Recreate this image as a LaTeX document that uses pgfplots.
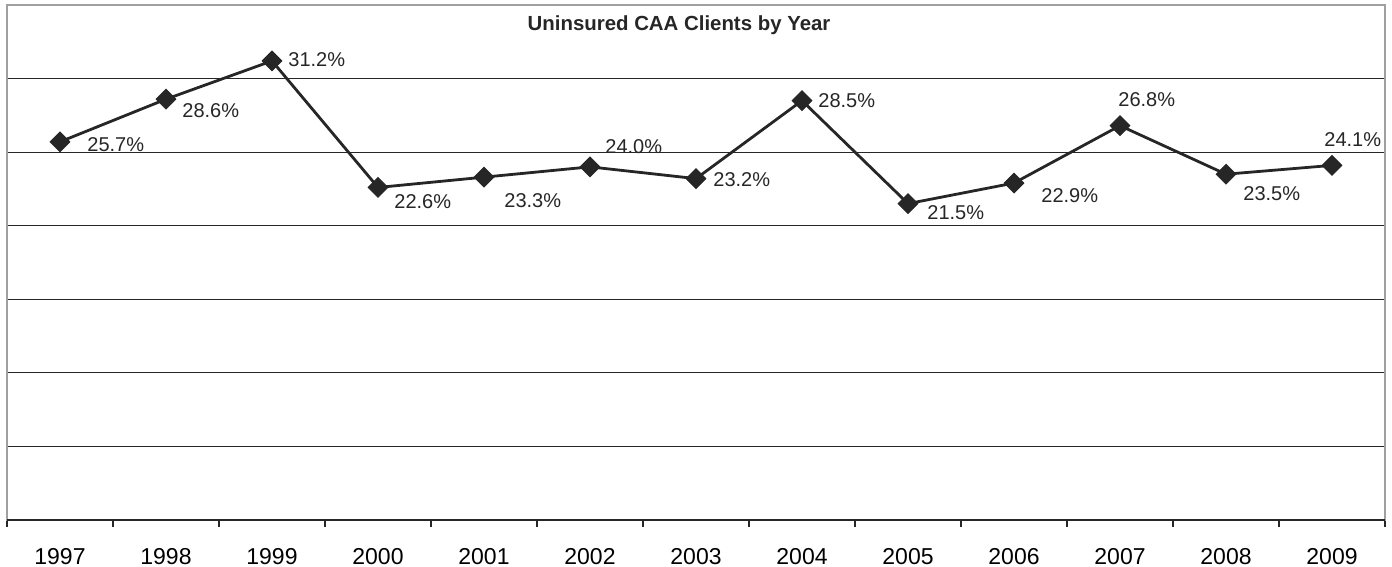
\documentclass[border=0pt]{standalone}
\usepackage{pgfplots}
\pgfplotsset{compat=1.18}
\usepackage{pgfplotstable}
\usepackage{fontspec}
\setmainfont{Liberation Sans}
\definecolor{lineclr}{HTML}{262626}
\definecolor{frameclr}{HTML}{A0A0A0}
\pgfplotstableread{
x y dx dy
0 25.7 13.5 -1.5
1 28.6 8 -5.5
2 31.2 8 0.5
3 22.6 8 -7
4 23.3 10 -11.5
5 24.0 7.5 10
6 23.2 8.5 -0.5
7 28.5 8 0
8 21.5 9.5 -4.5
9 22.9 13.5 -6.5
10 26.8 -1 13
11 23.5 8.5 -9.5
12 24.1 -4 13
}\datatable
\begin{document}
\begin{tikzpicture}
\path[use as bounding box] (-3.5pt,-23.5pt) rectangle (692.5pt,260pt);
\begin{axis}[
  at={(0,0)}, anchor=south west,
  scale only axis,
  width=689pt, height=257.5pt,
  xmin=-0.5, xmax=12.5,
  ymin=0, ymax=35,
  clip=false,
  axis line style={draw=frameclr, line width=1pt},
  xtick={0,...,12},
  xticklabels={1997,1998,1999,2000,2001,2002,2003,2004,2005,2006,2007,2008,2009},
  major x tick style={draw=none},
  minor xtick={-0.5,0.5,...,12.5},
  minor tick length=3.5pt,
  minor x tick style={draw=lineclr, line width=0.6pt},
  tick align=outside,
  xtick pos=bottom,
  ytick={5,10,...,30},
  yticklabels={},
  major y tick style={draw=none},
  ymajorgrids,
  grid style={draw=lineclr, line width=0.6pt},
  xticklabel style={font=\fontsize{11.5}{13}\selectfont, anchor=base, yshift=-18pt, inner sep=0pt},
  after end axis/.code={\draw[lineclr, line width=0.8pt] (rel axis cs:0,0) -- (rel axis cs:1,0);},
]
\addplot[
  color=lineclr, line width=1.4pt,
  mark=square*, mark size=3.5pt,
  mark options={rotate=45, fill=lineclr, draw=lineclr, line width=0.4pt},
  visualization depends on={\thisrow{dx}\as\dx},
  visualization depends on={\thisrow{dy}\as\dy},
  point meta=explicit,
  nodes near coords={\pgfmathprintnumber[fixed,fixed zerofill,precision=1,assume math mode=true]{\pgfplotspointmeta}\%},
  nodes near coords style={anchor=west, inner sep=0pt, xshift=\dx pt, yshift=\dy pt, font=\fontsize{10}{12}\selectfont, text=lineclr},
] table[x=x, y=y, meta=y] {\datatable};
\node[anchor=base, font=\bfseries\fontsize{10.2}{12}\selectfont, text=lineclr, yshift=-12.5pt] at (rel axis cs:0.4877,1) {Uninsured CAA Clients by Year};
\end{axis}
\end{tikzpicture}
\end{document}
